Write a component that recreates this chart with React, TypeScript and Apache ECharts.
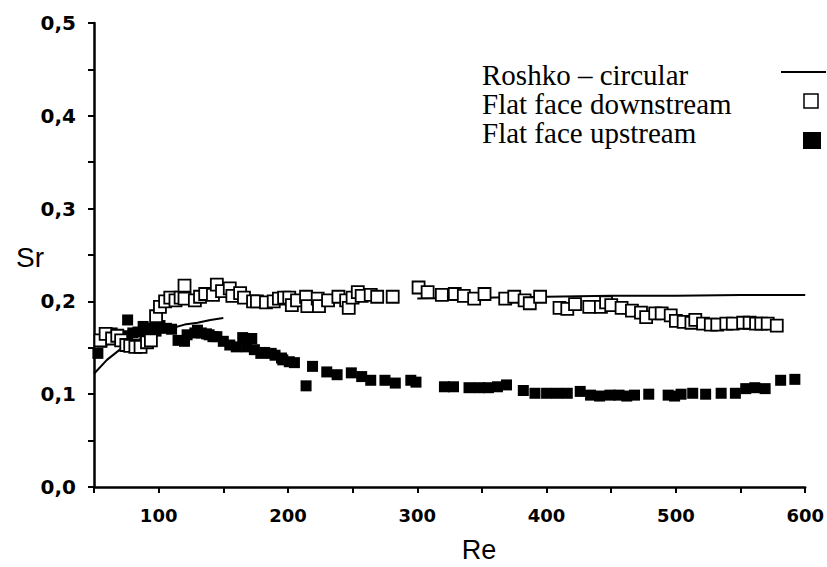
import React, { useEffect, useRef } from "react";
import * as echarts from "echarts";

const roshkoLow: [number, number][] = [
  [50, 0.122], [60, 0.137], [70, 0.148], [80, 0.156], [90, 0.162], [100, 0.167],
  [110, 0.171], [120, 0.175], [130, 0.177], [140, 0.180], [150, 0.182],
];
const roshkoHigh: [number, number][] = [
  [300, 0.203], [350, 0.204], [400, 0.205], [450, 0.206], [500, 0.206], [550, 0.207], [600, 0.207],
];

const downstream: [number, number][] = [
  [55, 0.158], [59, 0.165], [64, 0.160], [68, 0.163], [71, 0.158], [75, 0.153], [78, 0.152],
  [82, 0.151], [86, 0.151], [91, 0.156], [94, 0.158], [98, 0.184], [101, 0.194], [105, 0.200],
  [109, 0.204], [113, 0.201], [117, 0.204], [120, 0.217], [120, 0.203], [128, 0.201], [132, 0.205],
  [136, 0.208], [142, 0.207], [145, 0.218], [149, 0.211], [155, 0.214], [157, 0.206], [163, 0.209],
  [166, 0.204], [173, 0.200], [176, 0.200], [183, 0.199], [189, 0.200], [193, 0.203], [197, 0.204],
  [201, 0.204], [203, 0.196], [207, 0.201], [214, 0.205], [215, 0.195], [223, 0.203], [224, 0.195],
  [231, 0.201], [239, 0.205], [245, 0.201], [247, 0.193], [250, 0.204], [254, 0.210], [257, 0.206],
  [264, 0.207], [269, 0.205], [281, 0.205], [301, 0.215], [308, 0.210], [319, 0.207], [329, 0.208],
  [336, 0.206], [344, 0.203], [352, 0.208], [368, 0.203], [375, 0.205], [383, 0.201], [387, 0.198],
  [395, 0.205], [410, 0.193], [416, 0.192], [422, 0.197], [433, 0.194], [442, 0.194], [446, 0.199],
  [450, 0.196], [458, 0.193], [466, 0.190], [473, 0.188], [477, 0.183], [484, 0.187], [489, 0.187],
  [496, 0.185], [500, 0.179], [506, 0.178], [512, 0.177], [515, 0.180], [521, 0.176], [527, 0.175],
  [532, 0.175], [539, 0.176], [544, 0.176], [552, 0.177], [557, 0.177], [562, 0.176], [566, 0.176],
  [571, 0.176], [578, 0.174],
];

const upstream: [number, number][] = [
  [53, 0.144], [56, 0.156], [60, 0.164], [64, 0.166], [68, 0.160], [72, 0.163], [76, 0.180],
  [80, 0.166], [84, 0.167], [88, 0.173], [91, 0.165], [95, 0.171], [98, 0.168], [101, 0.174],
  [106, 0.171], [110, 0.170], [115, 0.158], [120, 0.157], [122, 0.164], [128, 0.166], [130, 0.169],
  [133, 0.166], [137, 0.165], [139, 0.164], [142, 0.162], [145, 0.162], [150, 0.157], [155, 0.153],
  [160, 0.151], [165, 0.161], [168, 0.151], [172, 0.160], [174, 0.148], [179, 0.144], [182, 0.145],
  [187, 0.144], [190, 0.142], [195, 0.139], [196, 0.137], [201, 0.135], [205, 0.134], [214, 0.109],
  [219, 0.130], [230, 0.124], [238, 0.121], [249, 0.123], [257, 0.119], [264, 0.115], [275, 0.115],
  [283, 0.112], [295, 0.115], [299, 0.113], [321, 0.108], [328, 0.108], [340, 0.107], [348, 0.107],
  [355, 0.107], [362, 0.108], [369, 0.110], [382, 0.104], [391, 0.101], [400, 0.101], [408, 0.101],
  [416, 0.101], [426, 0.103], [434, 0.099], [441, 0.098], [449, 0.099], [456, 0.099], [462, 0.098],
  [468, 0.099], [479, 0.100], [494, 0.099], [499, 0.098], [504, 0.100], [513, 0.101], [523, 0.100],
  [535, 0.101], [546, 0.101], [554, 0.106], [561, 0.107], [569, 0.106], [581, 0.115], [592, 0.116],
];

const legendLabels = ["Roshko \u2013 circular", "Flat face downstream", "Flat face upstream"];

export default function App() {
  const ref = useRef<HTMLDivElement>(null);
  useEffect(() => {
    if (!ref.current) return;
    document.body.style.margin = "0";
    const chart = echarts.init(ref.current, undefined, { renderer: "svg" });
    const tickLabel = {
      color: "#000",
      fontFamily: "DejaVu Sans",
      fontWeight: "bold" as const,
    };
    const legendText = (text: string, y: number) => ({
      type: "text",
      x: 482,
      y,
      style: {
        text,
        fontFamily: "Liberation Serif",
        fontSize: 29,
        lineHeight: 26,
        fill: "#000",
        verticalAlign: "middle",
        align: "left",
      },
    });
    chart.setOption({
      animation: false,
      backgroundColor: "#fff",
      grid: { left: 94, right: 20, top: 23, bottom: 80, containLabel: false },
      xAxis: {
        type: "value",
        min: 50,
        max: 600,
        interval: 50,
        axisLine: { show: true, onZero: false, lineStyle: { color: "#000", width: 2.5 } },
        axisTick: { show: true, length: 6, lineStyle: { color: "#000", width: 2 } },
        axisLabel: {
          ...tickLabel,
          fontSize: 18,
          margin: 19,
          formatter: (v: number) => (Math.round(v) % 100 === 0 ? String(Math.round(v)) : ""),
        },
        splitLine: { show: false },
      },
      yAxis: {
        type: "value",
        min: 0,
        max: 0.5,
        interval: 0.05,
        axisLine: { show: true, onZero: false, lineStyle: { color: "#000", width: 2.5 } },
        axisTick: { show: true, length: 6, lineStyle: { color: "#000", width: 2 } },
        axisLabel: {
          ...tickLabel,
          fontSize: 20,
          margin: 18,
          formatter: (v: number) =>
            Math.round(v * 100) % 10 === 0 ? v.toFixed(1).replace(".", ",") : "",
        },
        splitLine: { show: false },
      },
      series: [
        {
          name: legendLabels[0],
          type: "line",
          data: roshkoLow,
          showSymbol: false,
          lineStyle: { color: "#000", width: 2 },
          z: 3,
        },
        {
          name: legendLabels[0] + " (high)",
          type: "line",
          data: roshkoHigh,
          showSymbol: false,
          lineStyle: { color: "#000", width: 2 },
          z: 3,
        },
        {
          name: legendLabels[2],
          type: "scatter",
          data: upstream,
          symbol: "rect",
          symbolSize: 11,
          itemStyle: { color: "#000", opacity: 1 },
          z: 4,
        },
        {
          name: legendLabels[1],
          type: "scatter",
          data: downstream,
          symbol: "rect",
          symbolSize: 12,
          itemStyle: { color: "#fff", borderColor: "#000", borderWidth: 1.8, opacity: 1 },
          z: 5,
        },
      ],
      graphic: [
        {
          type: "text",
          x: 479,
          y: 550,
          style: {
            text: "Re",
            fontFamily: "Liberation Sans",
            fontSize: 27,
            fill: "#000",
            align: "center",
            verticalAlign: "middle",
          },
        },
        {
          type: "text",
          x: 30,
          y: 257,
          style: {
            text: "Sr",
            fontFamily: "Liberation Sans",
            fontSize: 28,
            fill: "#000",
            align: "center",
            verticalAlign: "middle",
          },
        },
        legendText(legendLabels[0], 75),
        legendText(legendLabels[1], 104),
        legendText(legendLabels[2], 133),
        {
          type: "line",
          shape: { x1: 781, y1: 72, x2: 826, y2: 72 },
          style: { stroke: "#000", lineWidth: 2 },
        },
        {
          type: "rect",
          shape: { x: 804, y: 94, width: 14, height: 14 },
          style: { fill: "#fff", stroke: "#000", lineWidth: 1.5 },
        },
        {
          type: "rect",
          shape: { x: 803, y: 132, width: 18, height: 17 },
          style: { fill: "#000" },
        },
      ],
    });
    return () => chart.dispose();
  }, []);
  return (
    <div
      ref={ref}
      style={{ position: "absolute", left: 0, top: 0, width: 827, height: 567 }}
    />
  );
}
